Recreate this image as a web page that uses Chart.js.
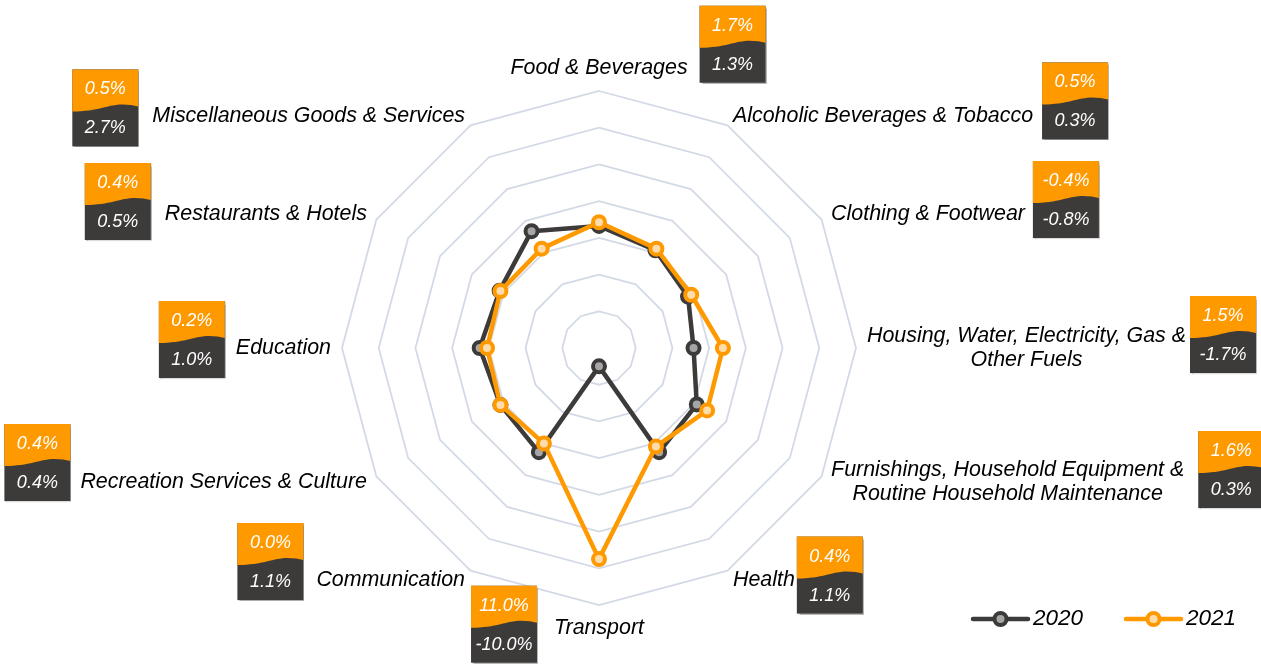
<!DOCTYPE html>
<html>
<head>
<meta charset="utf-8">
<script src="https://cdn.jsdelivr.net/npm/chart.js@4.4.1/dist/chart.umd.min.js"></script>
<style>
  html, body { margin: 0; padding: 0; background: #ffffff; }
  #wrap { position: relative; width: 1261px; height: 664px; }
</style>
</head>
<body>
<div id="wrap"><canvas id="c"></canvas></div>
<script>
// ---- data ----
const categories = [
  'Food & Beverages',
  'Alcoholic Beverages & Tobacco',
  'Clothing & Footwear',
  ['Housing, Water, Electricity, Gas &', 'Other Fuels'],
  ['Furnishings, Household Equipment &', 'Routine Household Maintenance'],
  'Health',
  'Transport',
  'Communication',
  'Recreation Services & Culture',
  'Education',
  'Restaurants & Hotels',
  'Miscellaneous Goods & Services'
];
const seriesNames = ['2020', '2021'];
const values2020 = [1.3, 0.3, -0.8, -1.7, 0.3, 1.1, -10.0, 1.1, 0.4, 1.0, 0.5, 2.7];
const values2021 = [1.7, 0.5, -0.4, 1.5, 1.6, 0.4, 11.0, 0.0, 0.4, 0.2, 0.4, 0.5];
const scaleMin = -12, scaleMax = 16, scaleStep = 4;

// ---- styles / layout ----
const DARK = '#3d3b3a';
const ORANGE = '#ff9900';
const LABEL_FONT = 'italic 21.4px "Liberation Sans", Arial, sans-serif';
const BADGE_FONT = 'italic 18px "Liberation Sans", Arial, sans-serif';
const LEGEND_FONT = 'italic 22.5px "Liberation Sans", Arial, sans-serif';
const badgeGap = [12, 9, 8, 4, 14, 2, 17, 13, 10, 11, 14, 14];
const badgeDy  = [-23.5, -15, -14.5, -13.5, -12.5, -5, -4, -18.5, -19.5, -8.5, -12.5, -8];

function drawBadge(ctx, x, y, top, bottom) {
  const w = 66, h = 77;
  ctx.save();
  ctx.shadowColor = 'rgba(0,0,0,0.28)';
  ctx.shadowOffsetX = 1; ctx.shadowOffsetY = 1; ctx.shadowBlur = 1;
  ctx.fillStyle = DARK;
  ctx.fillRect(x, y, w, h);
  ctx.restore();
  ctx.save();
  ctx.fillStyle = ORANGE;
  ctx.beginPath();
  ctx.moveTo(x, y);
  ctx.lineTo(x + w, y);
  ctx.lineTo(x + w, y + 37);
  ctx.quadraticCurveTo(x + 0.9 * w, y + 35.2, x + 0.76 * w, y + 35);
  ctx.bezierCurveTo(x + 0.55 * w, y + 35, x + 0.38 * w, y + 42, x, y + 42);
  ctx.closePath();
  ctx.fill();
  ctx.font = BADGE_FONT;
  ctx.fillStyle = '#ffffff';
  ctx.textAlign = 'center';
  ctx.textBaseline = 'middle';
  ctx.fillText(top, x + w / 2, y + 20);
  ctx.fillText(bottom, x + w / 2, y + 59);
  ctx.restore();
}

const fmt = v => v.toFixed(1) + '%';

const labelPlugin = {
  id: 'labelBadges',
  afterDraw(chart) {
    const ctx = chart.ctx;
    const r = chart.scales.r;
    const n = categories.length;
    const lineH = 24.5;
    ctx.save();
    ctx.font = LABEL_FONT;
    ctx.fillStyle = '#000000';
    ctx.textBaseline = 'middle';
    for (let i = 0; i < n; i++) {
      const lines = Array.isArray(categories[i]) ? categories[i] : [categories[i]];
      const p = r.getPointPosition(i, r.drawingArea + 11);
      const theta = i * 2 * Math.PI / n;
      const s = Math.sin(theta), c = Math.cos(theta);
      const widths = lines.map(t => ctx.measureText(t).width);
      const bw = Math.max(...widths);
      const bh = lines.length * lineH;
      let left;
      if (Math.abs(s) < 0.01) left = p.x - bw / 2;
      else if (s > 0) left = p.x;
      else left = p.x - bw;
      let topY;
      if (Math.abs(s) < 0.01 && c > 0) topY = p.y - bh;
      else if (Math.abs(s) < 0.01 && c < 0) topY = p.y;
      else topY = p.y - bh / 2;
      ctx.textAlign = 'center';
      lines.forEach((t, k) => {
        ctx.fillText(t, left + bw / 2, topY + lineH * (k + 0.5));
      });
      // badge
      const cy = topY + bh / 2 + badgeDy[i];
      const badgeRight = (s > 0.01) || (Math.abs(s) < 0.01 && c > 0);
      const bx = badgeRight ? left + bw + badgeGap[i] : left - badgeGap[i] - 66;
      drawBadge(ctx, bx, cy - 77 / 2, fmt(values2021[i]), fmt(values2020[i]));
    }
    // legend
    const items = [
      { name: seriesNames[0], color: DARK, fill: '#a6a6a6', x: 973 },
      { name: seriesNames[1], color: ORANGE, fill: '#ffdcaa', x: 1126 }
    ];
    const ly = 619;
    items.forEach(it => {
      ctx.save();
      ctx.strokeStyle = it.color;
      ctx.lineWidth = 4.5;
      ctx.lineCap = 'round';
      ctx.beginPath();
      ctx.moveTo(it.x, ly);
      ctx.lineTo(it.x + 55, ly);
      ctx.stroke();
      ctx.beginPath();
      ctx.arc(it.x + 27.5, ly, 6, 0, Math.PI * 2);
      ctx.fillStyle = it.fill;
      ctx.fill();
      ctx.lineWidth = 4;
      ctx.stroke();
      ctx.font = LEGEND_FONT;
      ctx.fillStyle = '#000000';
      ctx.textAlign = 'left';
      ctx.textBaseline = 'middle';
      ctx.fillText(it.name, it.x + 60, ly);
      ctx.restore();
    });
    ctx.restore();
  }
};

new Chart(document.getElementById('c'), {
  type: 'radar',
  data: {
    labels: categories,
    datasets: [
      {
        label: seriesNames[0], data: values2020, order: 2,
        borderColor: DARK, backgroundColor: 'transparent', fill: false,
        borderWidth: 4.5, borderJoinStyle: 'round',
        pointRadius: 6, pointBorderWidth: 4,
        pointBackgroundColor: '#a6a6a6', pointBorderColor: DARK
      },
      {
        label: seriesNames[1], data: values2021, order: 1,
        borderColor: ORANGE, backgroundColor: 'transparent', fill: false,
        borderWidth: 4.5, borderJoinStyle: 'round',
        pointRadius: 6, pointBorderWidth: 4,
        pointBackgroundColor: '#ffdcaa', pointBorderColor: ORANGE
      }
    ]
  },
  options: {
    responsive: true,
    maintainAspectRatio: false,
    animation: false,
    layout: { padding: { top: 91, bottom: 58, left: 200, right: 263 } },
    plugins: { legend: { display: false }, tooltip: { enabled: false } },
    elements: { line: { tension: 0 } },
    scales: {
      r: {
        min: scaleMin, max: scaleMax,
        ticks: { stepSize: scaleStep, display: false },
        grid: { color: '#d3dae6', lineWidth: 1.8, circular: false },
        angleLines: { display: false },
        pointLabels: { display: false }
      }
    }
  },
  plugins: [labelPlugin]
});
</script>
</body>
</html>
